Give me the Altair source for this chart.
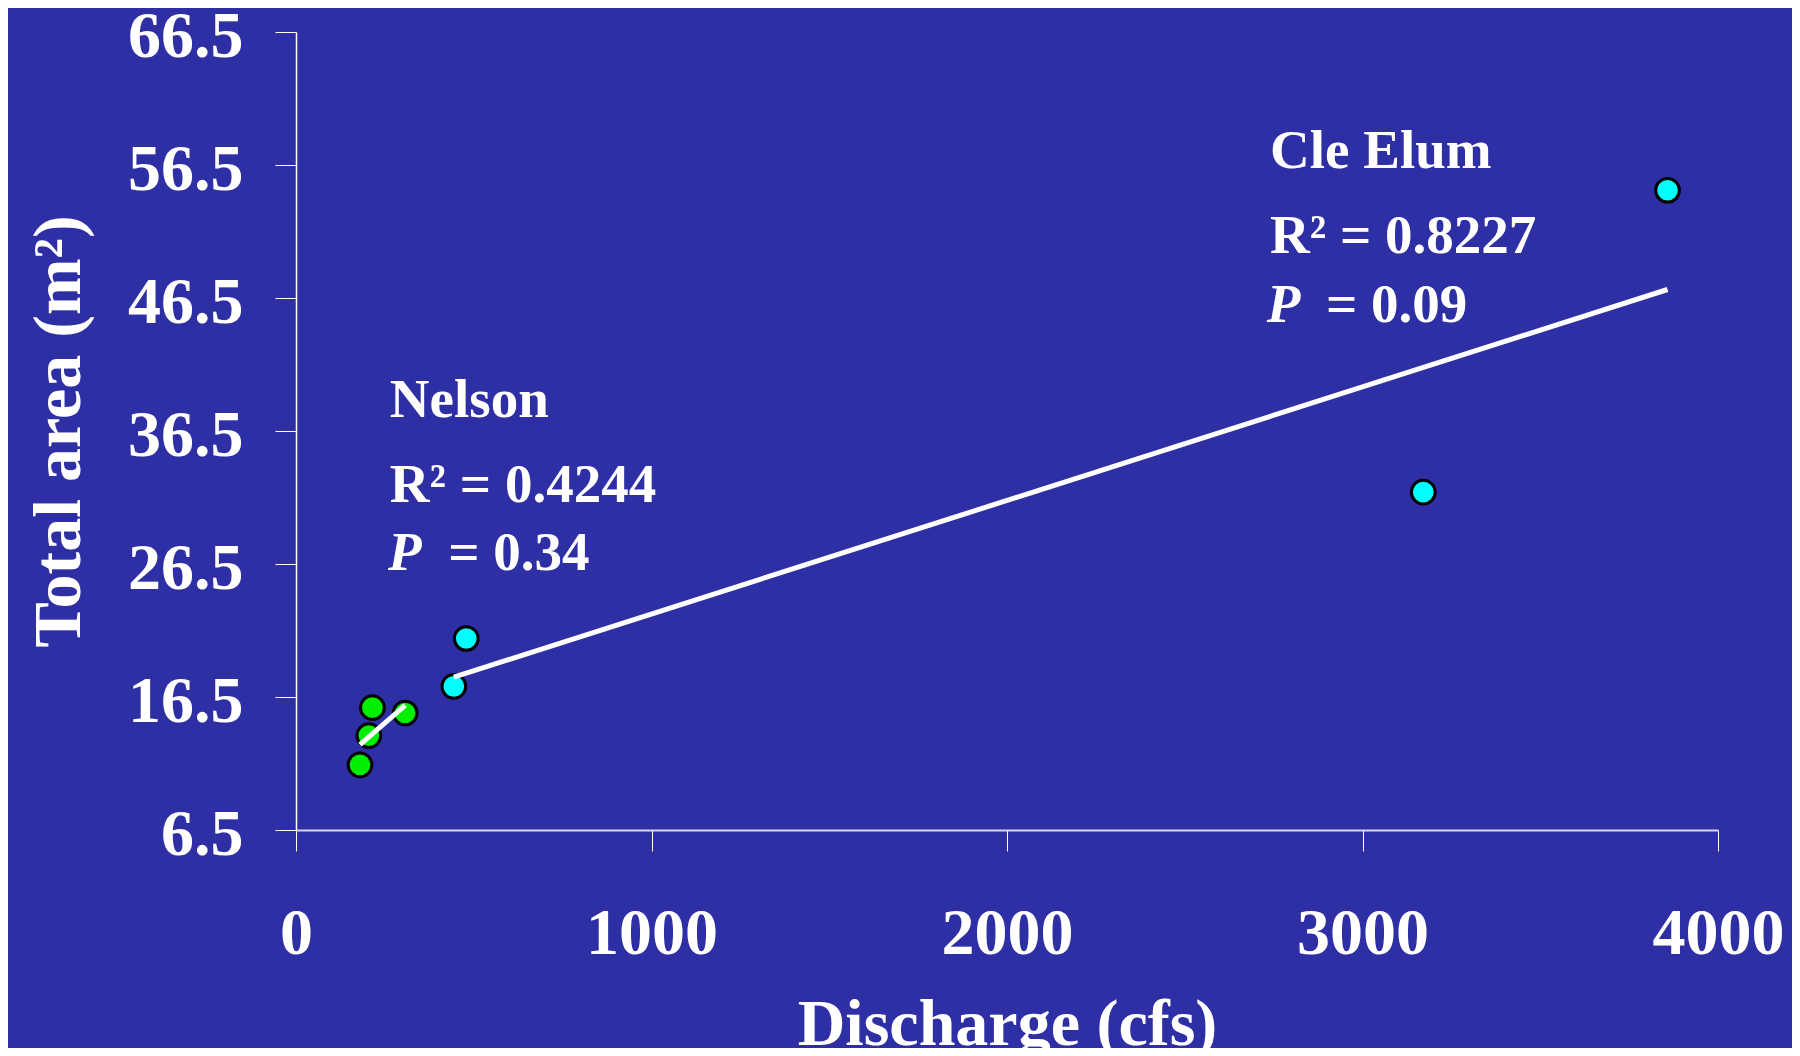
import altair as alt
import pandas as pd

# ---- data ----
site = ["Nelson", "Nelson", "Nelson", "Nelson", "Cle Elum", "Cle Elum", "Cle Elum", "Cle Elum"]
discharge = [180, 205, 215, 307, 444, 479, 3171, 3858]
area = [11.4, 13.6, 15.7, 15.3, 17.3, 20.9, 31.9, 54.6]

x_ticks = [0, 1000, 2000, 3000, 4000]
y_ticks = [6.5, 16.5, 26.5, 36.5, 46.5, 56.5, 66.5]

ann_text = ["Nelson", "R² = 0.4244", "P", "= 0.34",
            "Cle Elum", "R² = 0.8227", "P", "= 0.09"]
ann_x = [264, 264, 259, 428, 2740, 2740, 2731, 2897]
ann_y = [37.55, 31.16, 26.05, 26.05, 56.28, 49.88, 44.70, 44.70]
ann_italic = [False, False, True, False, False, False, True, False]

FONT = "Liberation Serif"
BG = "#2f2fa5"

df = pd.DataFrame({"site": site, "discharge": discharge, "area": area})
ann = pd.DataFrame({"text": ann_text, "x": ann_x, "y": ann_y, "italic": ann_italic})

xscale = alt.Scale(domain=[0, 4000], nice=False, zero=False)
yscale = alt.Scale(domain=[6.5, 66.5], nice=False, zero=False)

xaxis = alt.Axis(
    values=x_ticks, format="d", title="Discharge (cfs)", grid=False,
    domainColor="#d8d8f0", domainWidth=2, tickColor="white", tickWidth=1, tickSize=21,
    labelFont=FONT, labelFontSize=66, labelFontWeight="bold", labelColor="white",
    labelBaseline="alphabetic", labelPadding=102, labelFlush=False, labelOverlap=False,
    titleFont=FONT, titleFontSize=66, titleFontWeight="bold", titleColor="white",
    titleBaseline="alphabetic", titleX=711, titleY=214, titleAlign="center",
)
yaxis = alt.Axis(
    values=y_ticks, format=".1f", title="Total area (m²)", grid=False,
    domainColor="white", domainWidth=1.5, tickColor="white", tickWidth=1, tickSize=21,
    labelFont=FONT, labelFontSize=66, labelFontWeight="bold", labelColor="white",
    labelBaseline="middle", labelPadding=32, labelOffset=4, labelFlush=False, labelOverlap=False,
    titleFont=FONT, titleFontSize=68, titleFontWeight="bold", titleColor="white",
    titleBaseline="alphabetic", titleAngle=270, titleX=-217, titleY=399, titleAlign="center",
)

base = alt.Chart(df)

points = base.mark_circle(size=560, stroke="black", strokeWidth=3, opacity=1).encode(
    x=alt.X("discharge:Q", scale=xscale, axis=xaxis),
    y=alt.Y("area:Q", scale=yscale, axis=yaxis),
    color=alt.Color("site:N", scale=alt.Scale(domain=["Nelson", "Cle Elum"],
                                              range=["#00ee00", "#00ffff"]), legend=None),
)

lines = base.transform_regression("discharge", "area", groupby=["site"]).mark_line(
    color="white", strokeWidth=5
).encode(
    x=alt.X("discharge:Q", scale=xscale),
    y=alt.Y("area:Q", scale=yscale),
    detail="site:N",
)

text_common = dict(align="left", baseline="alphabetic", font=FONT, fontSize=55,
                   fontWeight="bold", color="white")

ann_normal = alt.Chart(ann).transform_filter("!datum.italic").mark_text(**text_common).encode(
    x=alt.X("x:Q", scale=xscale), y=alt.Y("y:Q", scale=yscale), text="text:N")
ann_ital = alt.Chart(ann).transform_filter("datum.italic").mark_text(
    fontStyle="italic", **text_common).encode(
    x=alt.X("x:Q", scale=xscale), y=alt.Y("y:Q", scale=yscale), text="text:N")

chart = alt.layer(points, lines, ann_normal, ann_ital).properties(
    width=1422, height=798,
    padding={"left": 288, "top": 24, "right": 74, "bottom": 218},
    autosize=alt.AutoSizeParams(type="none"),
    background=BG,
).configure_view(stroke=None)

chart.save("out.html", embed_options={"renderer": "svg", "actions": False})
